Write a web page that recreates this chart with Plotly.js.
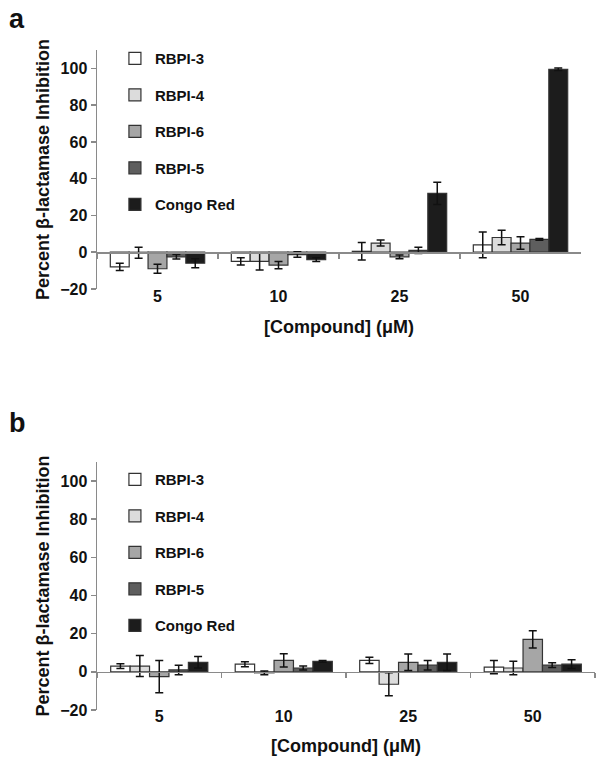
<!DOCTYPE html>
<html>
<head>
<meta charset="utf-8">
<script src="https://cdn.plot.ly/plotly-3.0.1.min.js"></script>
<style>html,body{margin:0;padding:0;background:#fff;}#chart{width:601px;height:764px;}</style>
</head>
<body>
<div id="chart"></div>
<script>
// ---- data ----
const categories = ['5', '10', '25', '50'];
const seriesNames = ['RBPI-3', 'RBPI-4', 'RBPI-6', 'RBPI-5', 'Congo Red'];
const yTicks = [-20, 0, 20, 40, 60, 80, 100];

// Panel a
const rbpi3_a = [-8, -5, 0.5, 4];
const rbpi3_a_err = [2, 2, 4.8, 7];
const rbpi4_a = [-0.3, -5, 5, 8];
const rbpi4_a_err = [3, 4.7, 1.6, 4];
const rbpi6_a = [-9, -7, -2.5, 5];
const rbpi6_a_err = [2.5, 2, 1, 3.4];
const rbpi5_a = [-2.5, -1.3, 1, 7];
const rbpi5_a_err = [1.2, 1.5, 1.7, 0.5];
const congo_a = [-6, -4, 32, 99.5];
const congo_a_err = [2.5, 1, 6, 0.7];

// Panel b
const rbpi3_b = [3, 4, 6, 2.5];
const rbpi3_b_err = [1.2, 1.3, 1.6, 3.5];
const rbpi4_b = [3, -0.5, -6.5, 2];
const rbpi4_b_err = [5.5, 1, 6, 3.5];
const rbpi6_b = [-2.5, 6, 5, 17];
const rbpi6_b_err = [8.5, 3.5, 4.3, 4.5];
const rbpi5_b = [1, 2, 3.5, 3.5];
const rbpi5_b_err = [2.5, 1, 2.5, 1.2];
const congo_b = [5, 5.5, 5, 4];
const congo_b_err = [3, 0.5, 4.3, 2.3];

// ---- styles ----
const colors = ['#ffffff', '#dcdcdc', '#a6a6a6', '#5e5e5e', '#1c1c1c'];
const FONT = 'Liberation Sans, Arial, Helvetica, sans-serif';

const panelA = [[rbpi3_a, rbpi3_a_err], [rbpi4_a, rbpi4_a_err], [rbpi6_a, rbpi6_a_err], [rbpi5_a, rbpi5_a_err], [congo_a, congo_a_err]];
const panelB = [[rbpi3_b, rbpi3_b_err], [rbpi4_b, rbpi4_b_err], [rbpi6_b, rbpi6_b_err], [rbpi5_b, rbpi5_b_err], [congo_b, congo_b_err]];

const traces = [];
function addPanel(panel, xa, ya, legendId, groupSuffix) {
  panel.forEach(([vals, errs], i) => {
    traces.push({
      type: 'bar',
      name: seriesNames[i],
      x: categories,
      y: vals,
      xaxis: xa,
      yaxis: ya,
      legend: legendId,
      legendgroup: seriesNames[i] + groupSuffix,
      marker: {color: colors[i], line: {color: '#333333', width: 1.2}},
      error_y: {type: 'data', array: errs, visible: true, color: '#111111', thickness: 1.5, width: 4}
    });
  });
}
addPanel(panelA, 'x', 'y', 'legend', 'a');
addPanel(panelB, 'x2', 'y2', 'legend2', 'b');

const yaDom = [0.6379, 1.0];
const ybDom = [0.0, 0.3758];
const yRange = [-20, 110];
function zeroPos(dom) { return dom[0] + (0 - yRange[0]) / (yRange[1] - yRange[0]) * (dom[1] - dom[0]); }

function xAxis(dom, ydom) {
  return {
    domain: dom,
    type: 'category',
    anchor: 'free',
    position: zeroPos(ydom),
    showline: true, linecolor: '#8a8a8a', linewidth: 1.5,
    ticks: 'outside', tickson: 'boundaries', ticklen: 5, tickcolor: '#8a8a8a', tickwidth: 1.5,
    showgrid: false, zeroline: false,
    ticklabelstandoff: 29,
    tickfont: {family: FONT, size: 16, color: '#111', weight: 'bold'},
    title: {text: '[Compound] (μM)', font: {family: FONT, size: 18, color: '#111', weight: 'bold'}, standoff: 16},
    fixedrange: true
  };
}
function yAxis(dom, xname) {
  return {
    domain: dom,
    anchor: xname,
    range: yRange,
    tickvals: yTicks,
    ticks: 'outside', ticklen: 5, tickcolor: '#8a8a8a', tickwidth: 1.5,
    showline: true, linecolor: '#8a8a8a', linewidth: 1.5,
    showgrid: false, zeroline: false,
    tickfont: {family: FONT, size: 16, color: '#111', weight: 'bold'},
    title: {text: 'Percent β-lactamase Inhibition', font: {family: FONT, size: 18, color: '#111', weight: 'bold'}, standoff: 6},
    fixedrange: true
  };
}

const legendBase = {
  xref: 'paper', yref: 'paper', xanchor: 'left', yanchor: 'top',
  bgcolor: 'rgba(0,0,0,0)', borderwidth: 0,
  font: {family: FONT, size: 15, color: '#111', weight: 'bold'},
  tracegroupgap: 14, itemwidth: 30, traceorder: 'grouped'
};

const layout = {
  width: 601, height: 764,
  margin: {l: 97, r: 6, t: 50, b: 54},
  paper_bgcolor: '#ffffff', plot_bgcolor: '#ffffff',
  barmode: 'group', bargap: 0.22, bargroupgap: 0,
  showlegend: true,
  xaxis: xAxis([0, 0.9719], yaDom),
  yaxis: yAxis(yaDom, 'x'),
  xaxis2: xAxis([0, 1], ybDom),
  yaxis2: yAxis(ybDom, 'x2'),
  legend: Object.assign({}, legendBase, {x: 0.036, y: 1.012}),
  legend2: Object.assign({}, legendBase, {x: 0.036, y: 0.3742}),
  annotations: [
    {text: 'a', xref: 'paper', yref: 'paper', x: -0.1807, y: 1.072, xanchor: 'left', yanchor: 'top', showarrow: false,
     font: {family: FONT, size: 27, color: '#111', weight: 'bold'}},
    {text: 'b', xref: 'paper', yref: 'paper', x: -0.1807, y: 0.4606, xanchor: 'left', yanchor: 'top', showarrow: false,
     font: {family: FONT, size: 27, color: '#111', weight: 'bold'}}
  ]
};

Plotly.newPlot('chart', traces, layout, {displayModeBar: false, staticPlot: true});
</script>
</body>
</html>
